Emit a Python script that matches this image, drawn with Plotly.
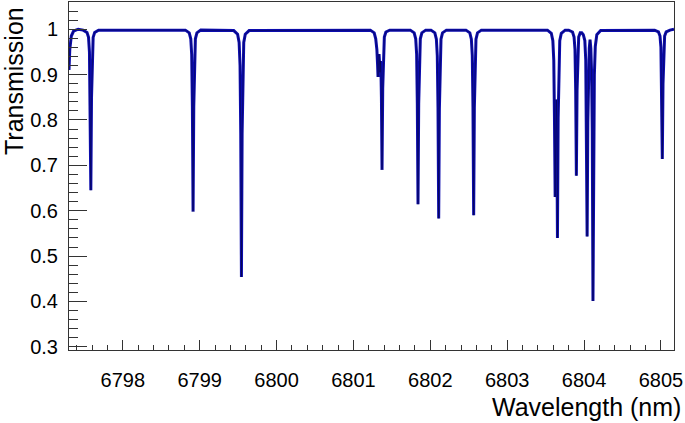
import plotly.graph_objects as go

# Transmission spectrum (wavelength in nm, transmission)
wavelength = [
    6797.300, 6797.310, 6797.330, 6797.360, 6797.420,
    6797.484, 6797.534, 6797.554, 6797.566, 6797.575, 6797.584, 6797.593, 6797.602, 6797.614, 6797.634, 6797.684,
    6798.814, 6798.864, 6798.884, 6798.896, 6798.905, 6798.914, 6798.923, 6798.932, 6798.944, 6798.964, 6799.014,
    6799.443, 6799.493, 6799.513, 6799.525, 6799.534, 6799.543, 6799.552, 6799.561, 6799.573, 6799.593, 6799.643,
    6801.220, 6801.270, 6801.290, 6801.305, 6801.314, 6801.320, 6801.328, 6801.333, 6801.339, 6801.345, 6801.352,
    6801.358, 6801.364, 6801.372, 6801.381, 6801.390, 6801.402, 6801.422, 6801.472,
    6801.740, 6801.790, 6801.810, 6801.822, 6801.831, 6801.840, 6801.849, 6801.858, 6801.870, 6801.890, 6801.940,
    6802.009, 6802.059, 6802.079, 6802.091, 6802.100, 6802.109, 6802.118, 6802.127, 6802.139, 6802.159, 6802.209,
    6802.464, 6802.514, 6802.534, 6802.546, 6802.555, 6802.564, 6802.573, 6802.582, 6802.594, 6802.614, 6802.664,
    6803.524, 6803.574, 6803.594, 6803.606, 6803.615, 6803.624, 6803.632, 6803.639, 6803.646, 6803.654, 6803.663,
    6803.672, 6803.684, 6803.704, 6803.754,
    6803.800, 6803.850, 6803.870, 6803.882, 6803.891, 6803.900, 6803.909, 6803.918, 6803.930, 6803.950, 6803.970,
    6803.990, 6804.010, 6804.022, 6804.031, 6804.040, 6804.049, 6804.058, 6804.068, 6804.078, 6804.088, 6804.098,
    6804.107, 6804.116, 6804.125, 6804.134, 6804.146, 6804.166, 6804.216,
    6804.918, 6804.968, 6804.988, 6805.000, 6805.009, 6805.018, 6805.027, 6805.036, 6805.048, 6805.068, 6805.118,
    6805.170,
]
transmission = [
    0.910, 0.955, 0.985, 0.996, 1.000,
    0.998, 0.993, 0.982, 0.950, 0.850, 0.645, 0.850, 0.950, 0.982, 0.993, 0.998,
    0.998, 0.992, 0.979, 0.944, 0.830, 0.598, 0.830, 0.944, 0.979, 0.992, 0.998,
    0.997, 0.989, 0.971, 0.920, 0.770, 0.454, 0.770, 0.920, 0.971, 0.989, 0.997,
    0.998, 0.992, 0.979, 0.955, 0.922, 0.895, 0.930, 0.945, 0.930, 0.905, 0.930,
    0.910, 0.850, 0.690, 0.870, 0.955, 0.983, 0.994, 0.998,
    0.998, 0.992, 0.979, 0.945, 0.836, 0.614, 0.836, 0.945, 0.979, 0.992, 0.998,
    0.998, 0.992, 0.978, 0.941, 0.825, 0.583, 0.825, 0.941, 0.978, 0.992, 0.998,
    0.998, 0.992, 0.978, 0.942, 0.828, 0.590, 0.828, 0.942, 0.978, 0.992, 0.998,
    0.998, 0.991, 0.975, 0.932, 0.805, 0.630, 0.780, 0.845, 0.770, 0.540, 0.805,
    0.932, 0.975, 0.991, 0.998,
    0.998, 0.994, 0.983, 0.955, 0.865, 0.677, 0.865, 0.955, 0.983, 0.992, 0.992,
    0.988, 0.975, 0.932, 0.805, 0.543, 0.795, 0.905, 0.958, 0.977, 0.958, 0.905,
    0.775, 0.401, 0.740, 0.900, 0.962, 0.988, 0.997,
    0.998, 0.994, 0.985, 0.960, 0.880, 0.714, 0.880, 0.960, 0.985, 0.994, 0.998,
    1.000,
]

x_tickvals = [6798, 6799, 6800, 6801, 6802, 6803, 6804, 6805]
y_tickvals = [0.3, 0.4, 0.5, 0.6, 0.7, 0.8, 0.9, 1.0]
y_ticktext = ["0.3", "0.4", "0.5", "0.6", "0.7", "0.8", "0.9", "1"]

FONT = "Liberation Sans, Arial, Helvetica, sans-serif"

fig = go.Figure()
fig.add_trace(go.Scatter(
    x=wavelength, y=transmission, mode="lines",
    line=dict(color="#0c0cae", width=3), hoverinfo="skip", showlegend=False,
))
fig.add_trace(go.Scatter(
    x=wavelength, y=transmission, mode="lines",
    line=dict(color="rgba(0,0,0,0.4)", width=0.8), hoverinfo="skip", showlegend=False,
))

axis_common = dict(
    showgrid=False, zeroline=False, showline=True, linecolor="#333333", linewidth=1,
    mirror=True, ticks="inside", tickcolor="#333333", tickwidth=1, automargin=False,
    tickfont=dict(family=FONT, size=20, color="black"),
)

fig.update_xaxes(
    range=[6797.3, 6805.17], tickvals=x_tickvals, ticklen=10,
    minor=dict(dtick=0.2, tick0=6798, ticks="inside", ticklen=5, tickcolor="#333333"),
    ticklabelstandoff=12,
    **axis_common,
)
fig.update_yaxes(
    range=[0.293, 1.06], tickvals=y_tickvals, ticktext=y_ticktext, ticklen=18,
    minor=dict(dtick=0.02, tick0=0.3, ticks="inside", ticklen=9, tickcolor="#333333"),
    ticklabelstandoff=6,
    **axis_common,
)

fig.update_layout(
    width=685, height=423,
    margin=dict(l=69, r=11, t=2, b=73),
    paper_bgcolor="white", plot_bgcolor="white",
    annotations=[
        dict(text="Wavelength (nm)", xref="paper", yref="paper",
             x=(683 - 69) / 605, y=(350 - 407) / 348, xanchor="right", yanchor="middle",
             showarrow=False, font=dict(family=FONT, size=25, color="black")),
        dict(text="Transmission", xref="paper", yref="paper", textangle=-90,
             x=(14 - 69) / 605, y=(350 - 5) / 348, xanchor="center", yanchor="top",
             showarrow=False, font=dict(family=FONT, size=25, color="black")),
    ],
)

fig.write_html(
    "out.html",
    config={"displayModeBar": False},
    post_script="document.body.style.margin='0';document.body.style.overflow='hidden';",
)
